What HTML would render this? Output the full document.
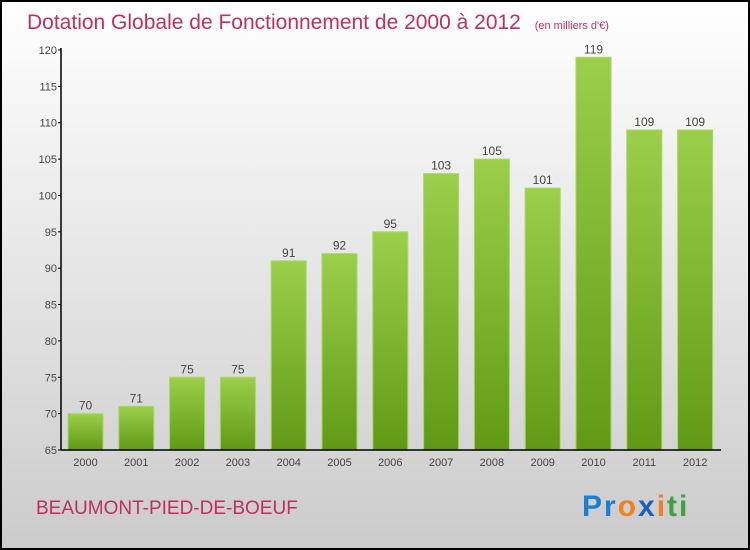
<!DOCTYPE html>
<html><head><meta charset="utf-8"><style>
body{margin:0;}
svg{display:block;font-family:"Liberation Sans",sans-serif;}
</style></head><body>
<svg id="c" width="750" height="550" xmlns="http://www.w3.org/2000/svg">
<defs>
<linearGradient id="bg" x1="0" y1="0" x2="0" y2="1"><stop offset="0" stop-color="#ffffff"/><stop offset="1" stop-color="#cbcbcb"/></linearGradient>
<linearGradient id="bar" x1="0" y1="0" x2="0" y2="1"><stop offset="0" stop-color="#9ccf4b"/><stop offset="1" stop-color="#609a15"/></linearGradient>
</defs>
<rect x="1" y="1" width="748" height="548" fill="url(#bg)" stroke="#000" stroke-width="2"/>
<text x="27" y="29" font-size="21" fill="#c0305c">Dotation Globale de Fonctionnement de 2000 à 2012 <tspan font-size="11" dx="8">(en milliers d'€)</tspan></text>
<text x="36" y="514" font-size="19" fill="#c0305c">BEAUMONT-PIED-DE-BOEUF</text>
<text x="582" y="516" font-size="30" font-weight="bold" letter-spacing="2"><tspan fill="#1a7fd0">Pr</tspan><tspan fill="#f08020">o</tspan><tspan fill="#1a60c0">x</tspan><tspan fill="#f08020">i</tspan><tspan fill="#40a040">ti</tspan></text>
<g id="plot"></g>
</svg>
<script>
const years=["2000","2001","2002","2003","2004","2005","2006","2007","2008","2009","2010","2011","2012"];
const values=[70,71,75,75,91,92,95,103,105,101,119,109,109];
const ticks=[65,70,75,80,85,90,95,100,105,110,115,120];
const NS="http://www.w3.org/2000/svg";
const g=document.getElementById('plot');
const x0=61,y0=450,ymin=65,ymax=120,ytop=50,step=50.8,bw=35;
const y=v=>y0-(v-ymin)/(ymax-ymin)*(y0-ytop);
const xc=i=>85.5+i*step;
function mk(t,a){const e=document.createElementNS(NS,t);for(const k in a)e.setAttribute(k,a[k]);g.appendChild(e);return e;}
ticks.forEach(t=>{
 const l=mk('line',{x1:x0-3,x2:x0,y1:y(t),y2:y(t),stroke:'#000'});
 
 
 const tx=mk('text',{x:x0-4,y:y(t)+4,'text-anchor':'end','font-size':11,fill:'#444'});tx.textContent=t;
 
 
});
values.forEach((v,i)=>{
 const r=mk('rect',{x:xc(i)-bw/2,y:y(v),width:bw,height:y0-y(v),fill:'url(#bar)',stroke:'#a8d860','stroke-width':1});
 
 
 const t=mk('text',{x:xc(i),y:y(v)-4,'text-anchor':'middle','font-size':12,fill:'#444'});t.textContent=v;
 
 
 const xl=mk('text',{x:xc(i),y:y0+16,'text-anchor':'middle','font-size':11,fill:'#444'});xl.textContent=years[i];
 
 
});
const ya=mk('line',{x1:x0,x2:x0,y1:ytop-2,y2:y0,stroke:'#000','stroke-width':1.5});


const xa=mk('line',{x1:x0,x2:721,y1:y0,y2:y0,stroke:'#000','stroke-width':1.5});


</script>
</body></html>
